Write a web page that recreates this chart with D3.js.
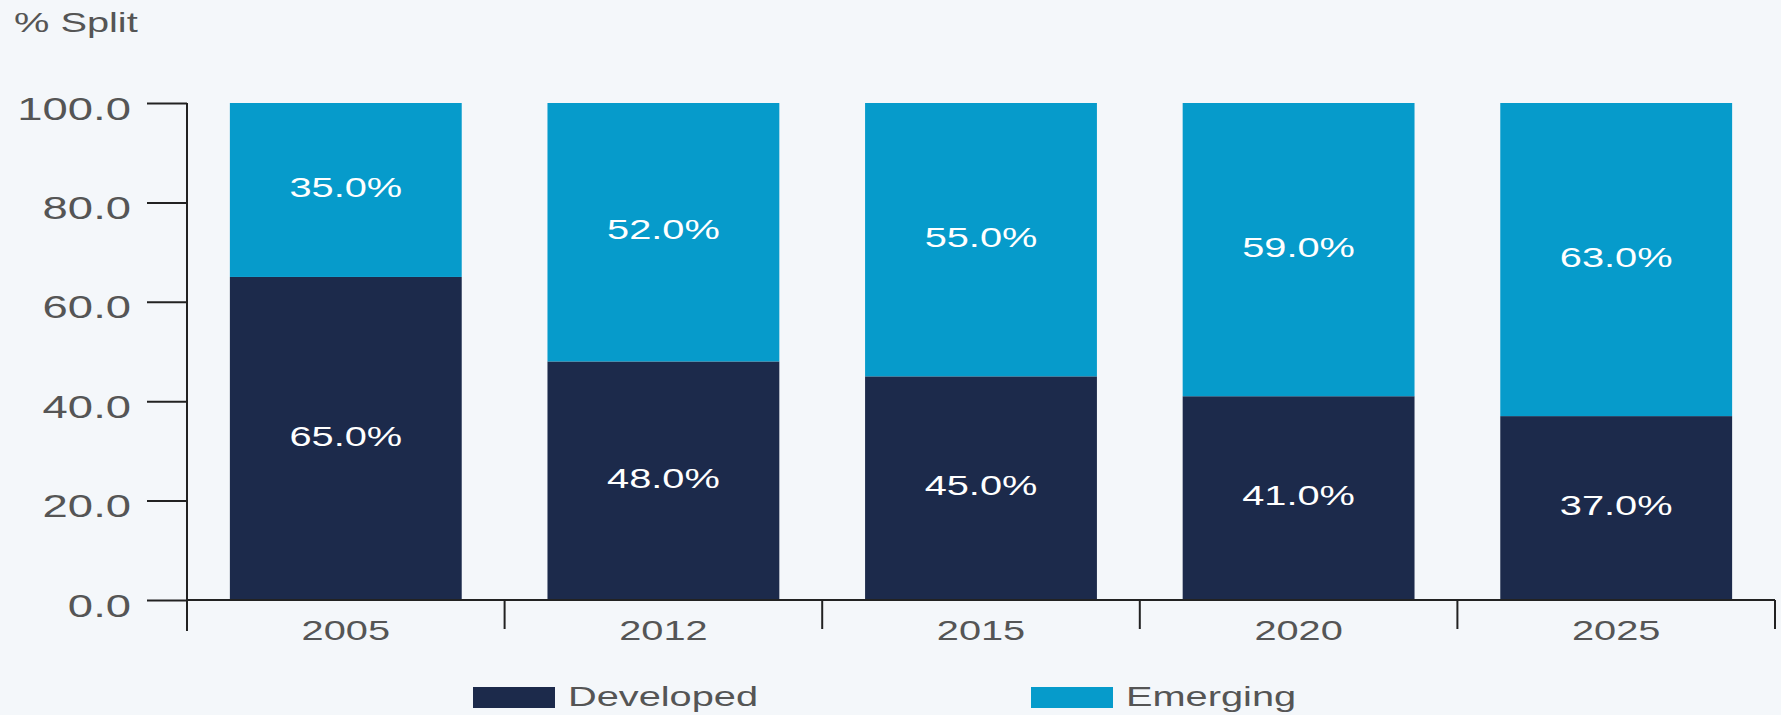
<!DOCTYPE html>
<html>
<head>
<meta charset="utf-8">
<script src="https://cdn.jsdelivr.net/npm/d3@7"></script>
<style>
  html, body { margin: 0; padding: 0; background: #f4f7fa; }
  svg { display: block; font-family: "Liberation Sans", Arial, sans-serif; }
</style>
</head>
<body>
<svg id="chart"></svg>
<script>
const years = ['2005', '2012', '2015', '2020', '2025'];
const developed = [65, 48, 45, 41, 37];
const emerging = [35, 52, 55, 59, 63];
const yTicks = [0, 20, 40, 60, 80, 100];
const seriesNames = ['Developed', 'Emerging'];

const W = 1781, H = 715;
const STRETCH = 1.42; // the source text is drawn wide
const colors = { Developed: '#1c2a4b', Emerging: '#069bcb' };

const svg = d3.select('#chart').attr('width', W).attr('height', H);
svg.append('rect').attr('width', W).attr('height', H).attr('fill', '#f4f7fa');

const x = d3.scaleBand()
  .domain(years)
  .range([187, 1775])
  .paddingInner(0.27)
  .paddingOuter(0.135);

const y = d3.scaleLinear().domain([0, 100]).range([600, 103]);

const wideText = (sel, px, py) => sel
  .attr('transform', 'translate(' + px + ',' + py + ') scale(' + STRETCH + ',1)');

// stacked data
const rows = years.map((yr, i) => ({ year: yr, Developed: developed[i], Emerging: emerging[i] }));
const stacked = d3.stack().keys(seriesNames)(rows);

const bars = svg.append('g');
stacked.forEach(layer => {
  bars.selectAll('rect.' + layer.key)
    .data(layer)
    .enter().append('rect')
    .attr('class', layer.key)
    .attr('x', d => x(d.data.year))
    .attr('width', x.bandwidth())
    .attr('y', d => y(d[1]))
    .attr('height', d => y(d[0]) - y(d[1]))
    .attr('fill', colors[layer.key]);

  bars.selectAll('text.' + layer.key)
    .data(layer)
    .enter().append('text')
    .attr('class', layer.key)
    .attr('text-anchor', 'middle')
    .attr('dy', '0.36em')
    .attr('font-size', 28)
    .attr('fill', '#ffffff')
    .each(function (d) {
      wideText(d3.select(this), x(d.data.year) + x.bandwidth() / 2, (y(d[0]) + y(d[1])) / 2 - 3);
    })
    .text(d => d3.format('.1f')(d.data[layer.key]) + '%');
});

// y axis
const yAxis = d3.axisLeft(y)
  .tickValues(yTicks)
  .tickSize(40)
  .tickFormat(d3.format('.1f'));

const yg = svg.append('g')
  .attr('transform', 'translate(187,0)')
  .call(yAxis);
yg.select('.domain').remove();
yg.selectAll('.tick line').attr('stroke', '#222').attr('stroke-width', 2);
yg.selectAll('.tick text')
  .attr('font-size', 32)
  .attr('font-family', '"Liberation Sans", Arial, sans-serif')
  .attr('fill', '#555')
  .attr('x', -56 / STRETCH)
  .attr('dy', '0.5em')
  .attr('transform', 'scale(' + STRETCH + ',1)');

svg.append('line')
  .attr('x1', 187).attr('x2', 187)
  .attr('y1', y(100)).attr('y2', 631)
  .attr('stroke', '#222').attr('stroke-width', 2);

// x axis
svg.append('line')
  .attr('x1', 187).attr('x2', 1775)
  .attr('y1', y(0)).attr('y2', y(0))
  .attr('stroke', '#222').attr('stroke-width', 2);

const step = x.step();
const bounds = d3.range(years.length + 1).map(i => 187 + i * step);
svg.append('g').selectAll('line')
  .data(bounds.slice(1))
  .enter().append('line')
  .attr('x1', d => d).attr('x2', d => d)
  .attr('y1', y(0)).attr('y2', 629)
  .attr('stroke', '#222').attr('stroke-width', 2);

svg.append('g').selectAll('text')
  .data(years)
  .enter().append('text')
  .attr('text-anchor', 'middle')
  .attr('font-size', 28)
  .attr('fill', '#555')
  .each(function (d) { wideText(d3.select(this), x(d) + x.bandwidth() / 2, 640); })
  .text(d => d);

// y title
svg.append('text')
  .attr('font-size', 28)
  .attr('fill', '#555')
  .call(wideText, 14, 32)
  .text('% Split');

// legend
const legendX = [473, 1031];
const legend = svg.append('g').selectAll('g')
  .data(seriesNames)
  .enter().append('g');
legend.append('rect')
  .attr('x', (d, i) => legendX[i])
  .attr('y', 687)
  .attr('width', 82)
  .attr('height', 21)
  .attr('fill', d => colors[d]);
legend.append('text')
  .attr('font-size', 28)
  .attr('fill', '#555')
  .each(function (d, i) { wideText(d3.select(this), legendX[i] + 95, 706); })
  .text(d => d);
</script>
</body>
</html>
